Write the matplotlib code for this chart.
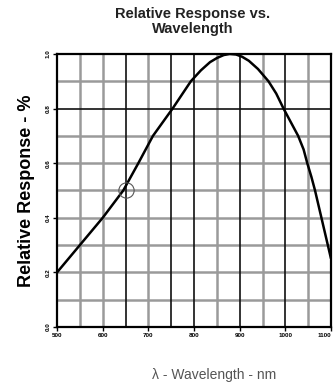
import matplotlib
matplotlib.use("Agg")
import matplotlib.pyplot as plt

wavelength = [500, 550, 600, 645, 678, 710, 753, 793, 815, 835, 850, 865, 878, 892, 905, 920, 940, 963, 980, 996, 1012, 1028, 1040, 1048, 1057, 1065, 1072, 1079, 1086, 1093, 1100]
response = [0.20, 0.30, 0.40, 0.50, 0.60, 0.70, 0.80, 0.90, 0.94, 0.97, 0.985, 0.996, 1.00, 0.998, 0.99, 0.975, 0.945, 0.90, 0.855, 0.80, 0.75, 0.70, 0.65, 0.60, 0.55, 0.50, 0.45, 0.40, 0.35, 0.30, 0.25]
marker_x = [650]
marker_y = [0.50]

x_ticks = [500, 600, 700, 800, 900, 1000, 1100]
x_tick_labels = ["500", "600", "700", "800", "900", "1000", "1100"]
y_ticks = [0.0, 0.2, 0.4, 0.6, 0.8, 1.0]
y_tick_labels = ["0.0", "0.2", "0.4", "0.6", "0.8", "1.0"]
x_grid_dark = [650, 750, 800, 900, 1000]
x_grid_gray = [550, 600, 700, 850, 950, 1050]
y_grid_dark = [0.8]
y_grid_gray = [0.1, 0.2, 0.3, 0.4, 0.5, 0.6, 0.7, 0.9]

plt.rcParams['font.family'] = ['Liberation Sans', 'DejaVu Sans']

fig = plt.figure(figsize=(3.34, 3.91), dpi=100)
ax = fig.add_axes([0.171, 0.164, 0.820, 0.698])
ax.set_xlim(500, 1100)
ax.set_ylim(0, 1.0)

for v in x_grid_gray:
    ax.axvline(v, color='#9a9a9a', lw=1.8, zorder=1)
for v in y_grid_gray:
    ax.axhline(v, color='#9a9a9a', lw=1.8, zorder=1)
for v in x_grid_dark:
    ax.axvline(v, color='#111111', lw=1.2, zorder=2)
for v in y_grid_dark:
    ax.axhline(v, color='#111111', lw=1.2, zorder=2)

ax.plot(wavelength, response, color='black', lw=1.8, zorder=4, solid_capstyle='butt', solid_joinstyle='round')
ax.plot(marker_x, marker_y, 'o', ms=11, mfc='none', mec='#555555', mew=0.8, zorder=5)

for s in ax.spines.values():
    s.set_linewidth(1.6)
    s.set_color('black')

ax.set_xticks(x_ticks)
ax.set_xticklabels(x_tick_labels, fontsize=4.5, fontweight='bold')
ax.get_xticklabels()[-1].set_ha('right')
ax.set_yticks(y_ticks)
ax.set_yticklabels(y_tick_labels, fontsize=4.5, fontweight='bold', rotation=90, va='center')
ax.tick_params(axis='both', length=3, width=1.0, pad=1.5)

fig.text(0.578, 0.945, "Relative Response vs.\nWavelength", ha='center', va='center',
         fontsize=10.5, fontweight='bold', color='#222222', linespacing=1.05)
ax.set_ylabel("Relative Response - %", fontsize=13, fontweight='bold', labelpad=8)
fig.text(0.64, 0.04, "λ - Wavelength - nm", ha='center', va='center', fontsize=10, color='#555555')

fig.savefig("out.png", dpi=100)
